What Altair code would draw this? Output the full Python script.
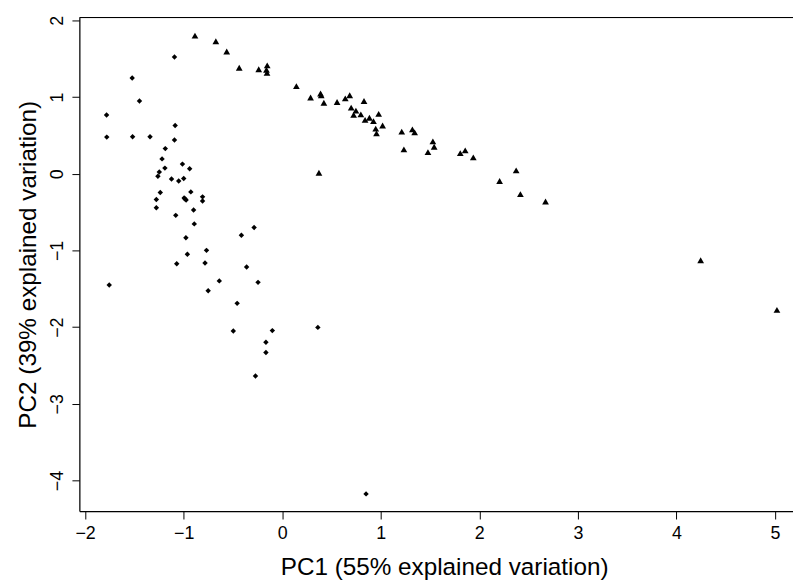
import altair as alt
import pandas as pd

# Group 1 (diamonds)
d_x = [-1.782, -1.780, -1.522, -1.448, -1.518, -1.341, -1.093, -1.086, -1.093, -1.186,
       -1.219, -1.190, -1.012, -0.939, -1.247, -1.261, -1.123, -1.050, -0.999, -1.237,
       -1.277, -1.277, -0.995, -0.975, -0.985, -0.927, -0.808, -0.808, -1.080, -0.899,
       -0.892, -0.977, -0.414, -0.285, -0.768, -0.962, -1.070, -0.783, -0.361, -1.755,
       -0.638, -0.751, -0.245, -0.457, -0.496, -0.100, -0.165, -0.165, -0.271, 0.362,
       0.851]
d_y = [0.766, 0.477, 1.248, 0.947, 0.482, 0.482, 1.520, 0.628, 0.438, 0.327,
       0.193, 0.073, 0.125, 0.064, 0.021, -0.034, -0.069, -0.095, -0.063, -0.246,
       -0.337, -0.444, -0.317, -0.343, -0.330, -0.237, -0.302, -0.357, -0.543, -0.474,
       -0.654, -0.835, -0.803, -0.702, -0.999, -1.051, -1.174, -1.163, -1.216, -1.451,
       -1.397, -1.525, -1.416, -1.690, -2.049, -2.045, -2.197, -2.330, -2.636, -2.003,
       -4.173]

# Group 2 (triangles)
t_x = [-0.885, -0.673, -0.563, -0.436, -0.238, -0.152, -0.160, -0.154, 0.144, 0.288,
       0.389, 0.396, 0.423, 0.557, 0.640, 0.685, 0.830, 0.700, 0.748, 0.725,
       0.798, 0.841, 0.885, 0.926, 0.979, 1.019, 0.949, 0.957, 1.213, 1.321,
       1.344, 1.235, 1.529, 1.542, 1.479, 1.807, 1.857, 1.939, 2.374, 2.206,
       2.417, 2.672, 4.246, 5.020, 0.373]
t_y = [1.800, 1.726, 1.593, 1.381, 1.361, 1.412, 1.355, 1.313, 1.142, 0.993,
       1.045, 1.022, 0.925, 0.934, 0.981, 1.022, 0.947, 0.861, 0.822, 0.766,
       0.774, 0.702, 0.729, 0.686, 0.779, 0.628, 0.587, 0.525, 0.548, 0.577,
       0.538, 0.318, 0.422, 0.351, 0.280, 0.269, 0.303, 0.212, 0.043, -0.095,
       -0.267, -0.362, -1.128, -1.774, 0.012]

x_ticks = [-2, -1, 0, 1, 2, 3, 4, 5]
y_ticks = [-4, -3, -2, -1, 0, 1, 2]

x_title = "PC1 (55% explained variation)"
y_title = "PC2 (39% explained variation)"

df_d = pd.DataFrame({"x": d_x, "y": d_y})
df_t = pd.DataFrame({"x": t_x, "y": t_y})

FONT = "Liberation Sans, Arial, Helvetica, sans-serif"
W, H = 720, 498

xscale = alt.Scale(domain=[-2.058, 5.183], nice=False, zero=False)
yscale = alt.Scale(domain=[-4.397, 2.036], nice=False, zero=False)

xaxis = alt.Axis(values=x_ticks, format="d", grid=False, domainColor="black", domainWidth=1.2,
                 tickColor="black", tickSize=8, tickWidth=1,
                 labelFont=FONT, labelFontSize=18, labelColor="black",
                 labelBaseline="alphabetic", labelPadding=20, labelFlush=False,
                 labelAlign="center",
                 title=x_title, titleFont=FONT, titleFontSize=24.5,
                 titleFontWeight="normal", titleColor="black",
                 titleBaseline="alphabetic", titleAlign="center",
                 titleX=368, titleY=64)
yaxis = alt.Axis(values=y_ticks, format="d", grid=False, domainColor="black", domainWidth=1.2,
                 tickColor="black", tickSize=7.5, tickWidth=1,
                 labelFont=FONT, labelFontSize=18, labelColor="black",
                 labelAngle=270, labelAlign="center", labelBaseline="alphabetic",
                 labelPadding=10, labelFlush=False,
                 title=y_title, titleFont=FONT, titleFontSize=24.5,
                 titleFontWeight="normal", titleColor="black",
                 titleAngle=270, titleBaseline="alphabetic", titleAlign="center",
                 titleX=-44.5, titleY=H / 2)

diamonds = alt.Chart(df_d).mark_point(
    shape="diamond", filled=True, color="black", opacity=1, size=30, strokeWidth=0
).encode(
    x=alt.X("x:Q", scale=xscale, axis=xaxis),
    y=alt.Y("y:Q", scale=yscale, axis=yaxis),
)

triangles = alt.Chart(df_t).mark_point(
    shape="triangle-up", filled=True, color="black", opacity=1, size=46, strokeWidth=0
).encode(
    x=alt.X("x:Q", scale=xscale),
    y=alt.Y("y:Q", scale=yscale),
)

top_line = alt.Chart(pd.DataFrame({"a": [0]})).mark_rule(
    color="black", strokeWidth=1.2
).encode(x=alt.value(0), x2=alt.value(W), y=alt.value(0))

chart = alt.layer(top_line, diamonds, triangles).properties(
    width=W, height=H,
    autosize=alt.AutoSizeParams(type="none"),
    padding={"left": 72, "top": 7, "right": 0, "bottom": 69},
).configure_view(stroke=None).configure(background="white")

chart.save("out.html", embed_options={"renderer": "svg", "actions": False})
